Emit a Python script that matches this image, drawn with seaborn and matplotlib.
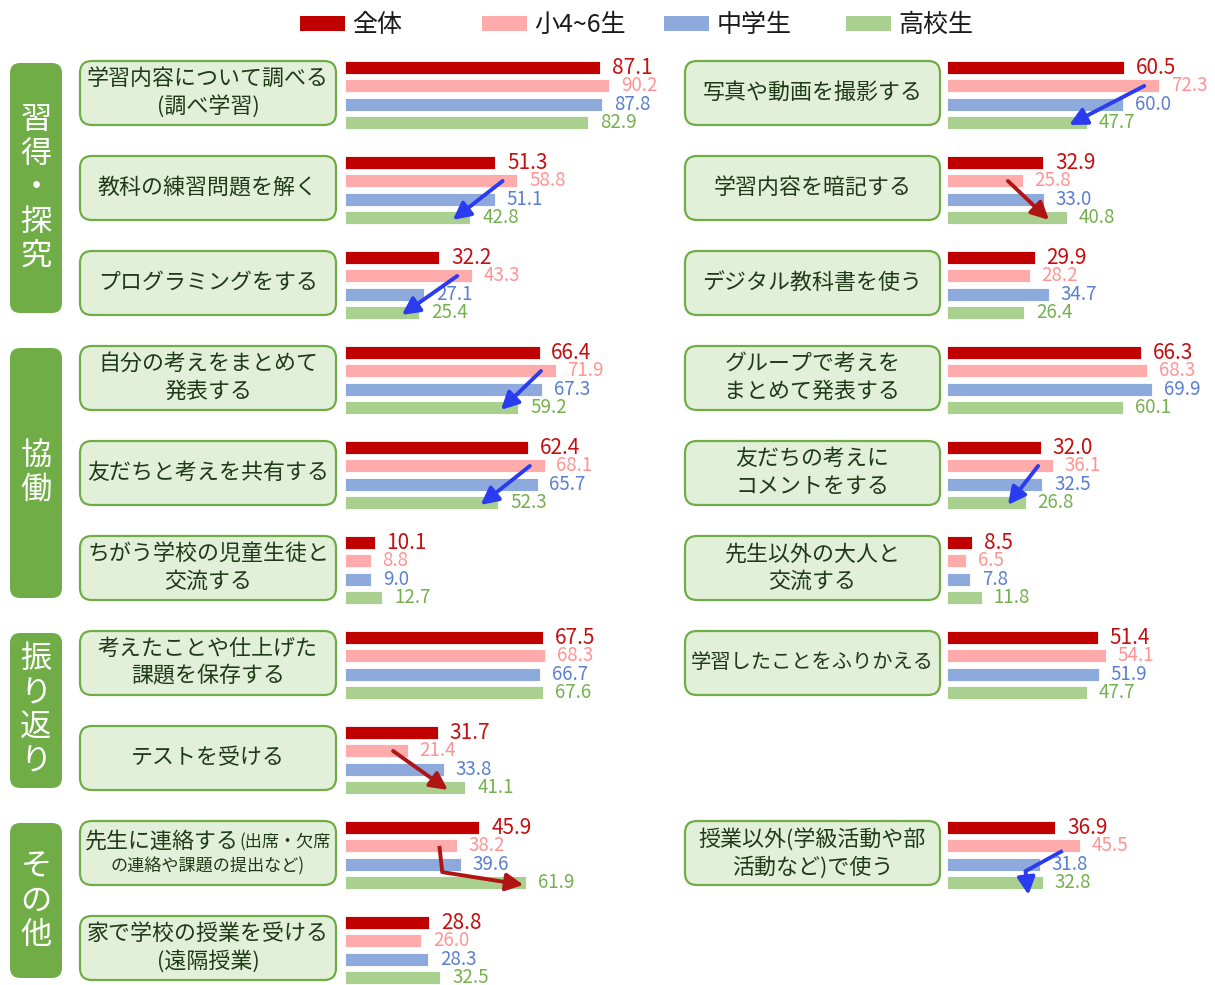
import re

import numpy as np
import pandas as pd
import seaborn as sns
from matplotlib import pyplot as plt
from matplotlib.patches import FancyBboxPatch, Patch
from matplotlib.offsetbox import TextArea, HPacker, VPacker, AnnotationBbox

GROUPS = ['全体', '小4~6生', '中学生', '高校生']
BAR_COLORS = ['#C00000', '#FFABAB', '#8EA9DB', '#A9D08E']
LABEL_COLORS = ['#C41010', '#FF9494', '#5A7FCF', '#74B04E']

CATEGORIES = ['習得・探究', '協働', '振り返り', 'その他']
CATEGORY_ROWS = [(0, 2), (3, 5), (6, 7), (8, 9)]

# {...} = smaller text
LEFT_ITEMS = ['学習内容について調べる\n(調べ学習)', '教科の練習問題を解く', 'プログラミングをする',
              '自分の考えをまとめて\n発表する', '友だちと考えを共有する', 'ちがう学校の児童生徒と\n交流する',
              '考えたことや仕上げた\n課題を保存する', 'テストを受ける',
              '先生に連絡する{(出席・欠席}\n{の連絡や課題の提出など)}', '家で学校の授業を受ける\n(遠隔授業)']
RIGHT_ITEMS = ['写真や動画を撮影する', '学習内容を暗記する', 'デジタル教科書を使う',
               'グループで考えを\nまとめて発表する', '友だちの考えに\nコメントをする', '先生以外の大人と\n交流する',
               '学習したことをふりかえる', None, '授業以外(学級活動や部\n活動など)で使う', None]

LEFT_ALL = [87.1, 51.3, 32.2, 66.4, 62.4, 10.1, 67.5, 31.7, 45.9, 28.8]
LEFT_ELEM = [90.2, 58.8, 43.3, 71.9, 68.1, 8.8, 68.3, 21.4, 38.2, 26.0]
LEFT_JHS = [87.8, 51.1, 27.1, 67.3, 65.7, 9.0, 66.7, 33.8, 39.6, 28.3]
LEFT_HS = [82.9, 42.8, 25.4, 59.2, 52.3, 12.7, 67.6, 41.1, 61.9, 32.5]

NA = np.nan
RIGHT_ALL = [60.5, 32.9, 29.9, 66.3, 32.0, 8.5, 51.4, NA, 36.9, NA]
RIGHT_ELEM = [72.3, 25.8, 28.2, 68.3, 36.1, 6.5, 54.1, NA, 45.5, NA]
RIGHT_JHS = [60.0, 33.0, 34.7, 69.9, 32.5, 7.8, 51.9, NA, 31.8, NA]
RIGHT_HS = [47.7, 40.8, 26.4, 60.1, 26.8, 11.8, 47.7, NA, 32.8, NA]

# (column, row, colour, shape)
ARROWS = [('L', 1, '#2B3BF0', 'straight'), ('L', 2, '#2B3BF0', 'straight'),
          ('L', 3, '#2B3BF0', 'straight'), ('L', 4, '#2B3BF0', 'straight'),
          ('L', 7, '#B01515', 'straight'), ('L', 8, '#B01515', 'bend_right'),
          ('R', 0, '#2B3BF0', 'straight'), ('R', 1, '#B01515', 'straight'),
          ('R', 4, '#2B3BF0', 'straight'), ('R', 8, '#2B3BF0', 'bend_down')]

W, H = 1215, 985
ROW0, ROW_STEP = 95, 95      # pixel centre of first row, pixels per row
PX_PER_UNIT = 2.93
BOX_GREEN = '#70AD47'
TEXT_COLOR = '#1F3A17'


def to_long(values):
    rows = []
    for g, vals in zip(GROUPS, values):
        for r, v in enumerate(vals):
            if not np.isnan(v):
                rows.append({'row': r, 'group': g, 'value': v})
    return pd.DataFrame(rows)


def inch(px, py):
    return px / 100, (H - py) / 100


def row_px(r):
    return ROW0 + ROW_STEP * r


def draw_label(fig, text, cx, cy):
    maxlen = max(len(re.sub(r'\{[^}]*\}', '', l)) for l in text.split('\n'))
    big = 15.8 if maxlen <= 11 else 14.6
    lines = []
    for line in text.split('\n'):
        segs = []
        for part in re.split(r'(\{[^}]*\})', line):
            if not part:
                continue
            size = 12.3 if part.startswith('{') else big
            segs.append(TextArea(part.strip('{}'), textprops=dict(fontsize=size, color=TEXT_COLOR)))
        lines.append(HPacker(children=segs, align='baseline', pad=0, sep=0))
    pack = VPacker(children=lines, align='center', pad=0, sep=4)
    ab = AnnotationBbox(pack, inch(cx, cy), xycoords=fig.dpi_scale_trans, frameon=False,
                        box_alignment=(0.5, 0.5), pad=0)
    fig.add_artist(ab)


def draw_column(fig, ax, values, items, box_x0, box_x1, ax_x1):
    df = to_long(values)
    sns.barplot(data=df, y='row', x='value', hue='group', order=list(range(10)), hue_order=GROUPS,
                palette=BAR_COLORS, orient='h', width=0.76, gap=0.28, saturation=1,
                errorbar=None, legend=False, edgecolor='white', linewidth=0.6, ax=ax)
    ax.set_ylim((H - ROW0) / ROW_STEP, (50 - ROW0) / ROW_STEP)
    ax.set_xlim(0, ax_x1 / PX_PER_UNIT)
    ax.axis('off')

    for i, cont in enumerate(ax.containers):
        ax.bar_label(cont, fmt='%.1f', padding=8.5, color=LABEL_COLORS[i],
                     fontsize=15 if i == 0 else 13.5)

    for r, item in enumerate(items):
        if item is None:
            continue
        cy = row_px(r) - 2
        x0, y0 = inch(box_x0, cy + 32)
        box = FancyBboxPatch((x0, y0), (box_x1 - box_x0) / 100, 0.64,
                             boxstyle='round,pad=0,rounding_size=0.12', transform=fig.dpi_scale_trans,
                             facecolor='#E2F0D9', edgecolor=BOX_GREEN, linewidth=1.6)
        fig.add_artist(box)
        draw_label(fig, item, (box_x0 + box_x1) / 2, cy)


def draw_arrows(axes, data):
    off = (np.arange(4) - 1.5) * 0.19
    for side, r, color, shape in ARROWS:
        ax = axes[side]
        pink, green = data[side][1][r], data[side][3][r]
        if shape == 'straight':
            pts = [(pink - 5, r + off[1]), (green - 6, r + off[3] + 0.03)]
        elif shape == 'bend_right':
            pts = [(pink - 6, r + off[1]), (pink - 5, r + 0.18), (green - 1, r + off[3] + 0.03)]
        else:
            pts = [(pink - 6, r + off[1] + 0.05), (green - 6, r + 0.17), (green - 5, r + 0.42)]
        if len(pts) == 3:
            ax.plot([pts[0][0], pts[1][0]], [pts[0][1], pts[1][1]], color=color, lw=2.8,
                    solid_capstyle='butt')
        ax.annotate('', xy=pts[-1], xytext=pts[-2],
                    arrowprops=dict(arrowstyle='-|>,head_length=0.65,head_width=0.33', color=color,
                                    lw=2.8, mutation_scale=16, shrinkA=0, shrinkB=0))


sns.set_style('white')
plt.rcParams['font.family'] = ['Noto Sans CJK JP', 'DejaVu Sans']

fig = plt.figure(figsize=(W / 100, H / 100), dpi=100)

left_vals = [LEFT_ALL, LEFT_ELEM, LEFT_JHS, LEFT_HS]
right_vals = [RIGHT_ALL, RIGHT_ELEM, RIGHT_JHS, RIGHT_HS]

ax_l = fig.add_axes([345 / W, 0, (660 - 345) / W, 1 - 50 / H])
ax_r = fig.add_axes([947 / W, 0, (W - 947) / W, 1 - 50 / H])
draw_column(fig, ax_l, left_vals, LEFT_ITEMS, 80, 336, 660 - 345)
draw_column(fig, ax_r, right_vals, RIGHT_ITEMS, 685, 940, W - 947)
draw_arrows({'L': ax_l, 'R': ax_r}, {'L': left_vals, 'R': right_vals})

# category boxes with vertical text
for name, (r0, r1) in zip(CATEGORIES, CATEGORY_ROWS):
    top, bottom = row_px(r0) - 32, row_px(r1) + 28
    x0, y0 = inch(10, bottom)
    fig.add_artist(FancyBboxPatch((x0, y0), 0.52, (bottom - top) / 100,
                                  boxstyle='round,pad=0,rounding_size=0.1', transform=fig.dpi_scale_trans,
                                  facecolor=BOX_GREEN, edgecolor='none'))
    mid = (top + bottom) / 2
    pitch = 34
    for k, ch in enumerate(name):
        cy = mid + (k - (len(name) - 1) / 2) * pitch
        fig.text(*inch(36, cy), ch, transform=fig.dpi_scale_trans, ha='center', va='center',
                 color='white', fontsize=22.5)

# legend, evenly spaced entries
for i, g in enumerate(GROUPS):
    fig.legend(handles=[Patch(facecolor=BAR_COLORS[i], edgecolor='none')], labels=[g],
               loc='center left', bbox_to_anchor=((300 + 182 * i) / W, 1 - 25 / H),
               frameon=False, fontsize=18, handlelength=1.8, handleheight=0.56,
               handletextpad=0.3, borderpad=0, borderaxespad=0, labelcolor='#1a1a1a')

plt.savefig('out.png', dpi=100)
